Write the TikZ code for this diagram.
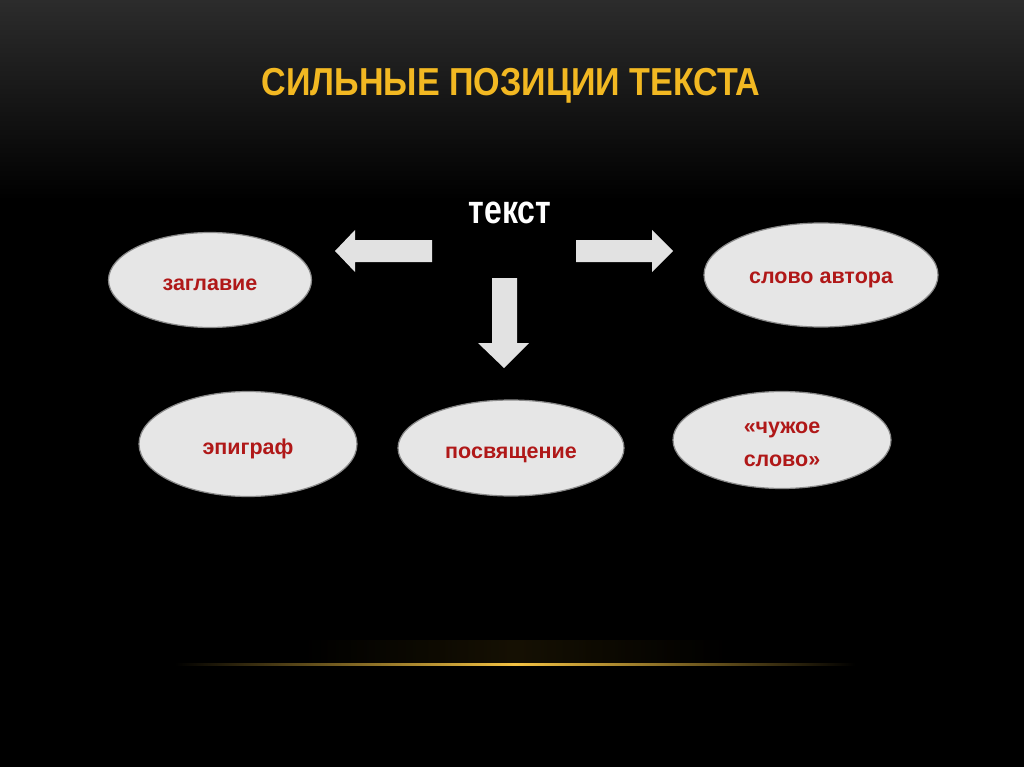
\documentclass[tikz,border=0pt]{standalone}
\usepackage{fontspec}
\setmainfont{Liberation Sans}
\usetikzlibrary{shapes.geometric}
\definecolor{gold}{HTML}{F2B822}
\definecolor{topgray}{HTML}{2C2C2C}
\definecolor{ovalfill}{HTML}{E6E6E6}
\definecolor{ovaledge}{HTML}{8A8A8A}
\definecolor{redtext}{HTML}{B01818}
\definecolor{arrowfill}{HTML}{E2E2E2}
\begin{document}
\begin{tikzpicture}[x=1pt,y=-1pt,
  oval/.style={ellipse, draw=ovaledge, line width=1.2pt, fill=ovalfill, inner sep=0pt},
  ovaltext/.style={font=\fontsize{21.5}{33}\selectfont\bfseries, text=redtext, align=center, yshift=-5pt},
  blockarrow/.style={fill=arrowfill, draw=none}]
\useasboundingbox (0,0) rectangle (1024,767);
\fill[black] (0,0) rectangle (1024,767);
\shade[top color=topgray, bottom color=black] (0,0) rectangle (1024,200);
% bottom glow
\shade[left color=black, right color=black, middle color=gold!15!black, opacity=0.6] (300,640) rectangle (730,662);
\shade[left color=black, right color=black, middle color=gold!85!white] (175,663) rectangle (855,665.5);
% title
\node[text=gold, font=\fontsize{39}{44}\selectfont\bfseries] (title) at (511,86) {\scalebox{0.874}[1]{СИЛЬНЫЕ ПОЗИЦИИ ТЕКСТА}};
\node[text=white, font=\fontsize{40}{44}\selectfont\bfseries] (tekst) at (510,213) {\scalebox{0.8}[1]{текст}};
% ovals
\node[oval, minimum width=203pt, minimum height=95pt, label={[ovaltext]center:заглавие}] (zaglavie) at (210,280) {};
\node[oval, minimum width=234pt, minimum height=104pt, label={[ovaltext]center:слово автора}] (avtor) at (821,275) {};
\node[oval, minimum width=218pt, minimum height=105pt, label={[ovaltext]center:эпиграф}] (epigraf) at (248,444) {};
\node[oval, minimum width=226pt, minimum height=96pt, label={[ovaltext, yshift=-2pt]center:посвящение}] (posv) at (511,448) {};
\node[oval, minimum width=218pt, minimum height=97pt, label={[ovaltext, yshift=1pt]center:{«чужое\\слово»}}] (chuzh) at (782,440) {};
% block arrows
\fill[blockarrow] (432,240) -- (355,240) -- (355,230) -- (335,251) -- (355,272) -- (355,262) -- (432,262) -- cycle;
\fill[blockarrow] (576,240) -- (652,240) -- (652,230) -- (673,251) -- (652,272) -- (652,262) -- (576,262) -- cycle;
\fill[blockarrow] (492,278) -- (517,278) -- (517,343) -- (529,343) -- (504,368) -- (478,343) -- (492,343) -- cycle;
\end{tikzpicture}
\end{document}
